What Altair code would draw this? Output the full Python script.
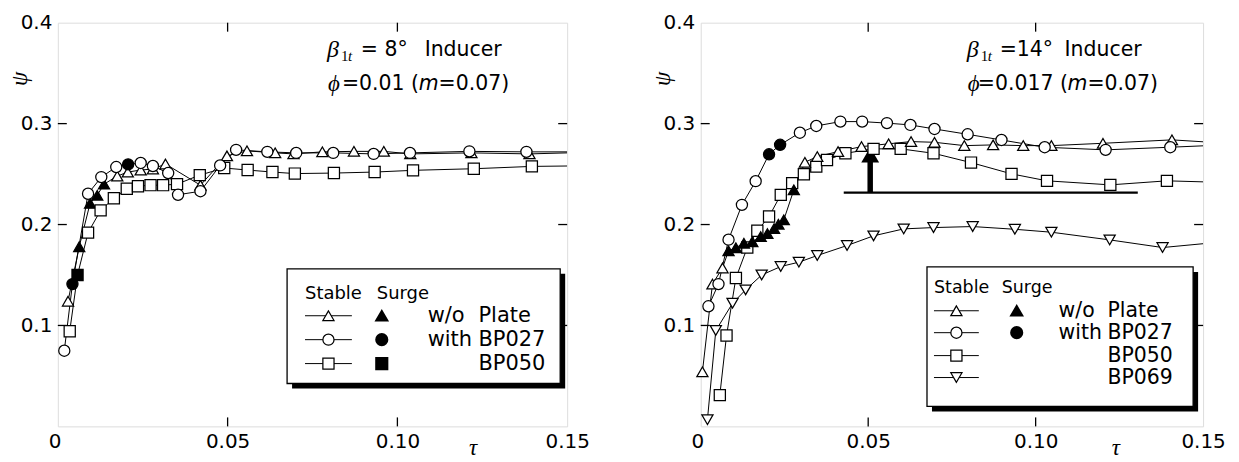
import altair as alt
import pandas as pd

TAU_DOMAIN = [0, 0.15]
PSI_DOMAIN = [0, 0.4]

# ---------------- Left panel: beta_1t = 8 deg, phi = 0.01 ----------------
L_WO_TAU = [0.0030, 0.0063, 0.0095, 0.0116, 0.0136, 0.0175, 0.0206, 0.0244, 0.0280, 0.0317,
            0.0420, 0.0498, 0.0557, 0.0640, 0.0694, 0.0779, 0.0872, 0.0960, 0.1038, 0.1218, 0.1389]
L_WO_PSI = [0.124, 0.178, 0.221, 0.229, 0.240, 0.248, 0.252, 0.254, 0.255, 0.260,
            0.239, 0.268, 0.273, 0.271, 0.270, 0.272, 0.2725, 0.2725, 0.270, 0.271, 0.270]
L_WO_SURGE = [1, 2, 3, 4]
L_WO_EDGE = 0.271

L_27_TAU = [0.0019, 0.0043, 0.0089, 0.0128, 0.0172, 0.0207, 0.0244, 0.0280, 0.0325, 0.0354,
            0.0420, 0.0478, 0.0525, 0.0617, 0.0702, 0.0811, 0.0930, 0.1037, 0.1212, 0.1380]
L_27_PSI = [0.075, 0.141, 0.2305, 0.247, 0.257, 0.2596, 0.261, 0.258, 0.251, 0.2295,
            0.233, 0.2586, 0.274, 0.272, 0.271, 0.271, 0.270, 0.271, 0.2725, 0.272]
L_27_SURGE = [1, 5]
L_27_EDGE = 0.272

L_50_TAU = [0.0035, 0.0058, 0.0089, 0.0126, 0.0165, 0.0203, 0.0236, 0.0273, 0.0310, 0.0351,
            0.0418, 0.0490, 0.0559, 0.0632, 0.0698, 0.0813, 0.0933, 0.1046, 0.1225, 0.1396]
L_50_PSI = [0.0943, 0.150, 0.192, 0.214, 0.226, 0.2355, 0.238, 0.239, 0.239, 0.240,
            0.249, 0.256, 0.254, 0.252, 0.2505, 0.251, 0.252, 0.2537, 0.2553, 0.2576]
L_50_SURGE = [1]
L_50_EDGE = 0.258

# ---------------- Right panel: beta_1t = 14 deg, phi = 0.017 ----------------
R_WO_TAU = [0.0005, 0.0035, 0.0065, 0.0083, 0.0105, 0.0129, 0.0154, 0.0179, 0.0199, 0.0219,
            0.0232, 0.0248, 0.0278, 0.0311, 0.0348, 0.0410, 0.0480, 0.0561, 0.0628, 0.0698,
            0.0787, 0.0873, 0.0963, 0.1047, 0.1201, 0.1407]
R_WO_PSI = [0.054, 0.141, 0.157, 0.174, 0.177, 0.1815, 0.183, 0.188, 0.191, 0.196,
            0.2003, 0.2046, 0.2343, 0.2617, 0.2673, 0.2723, 0.2772, 0.280, 0.2822, 0.2815,
            0.2782, 0.2789, 0.2782, 0.2782, 0.2805, 0.2839]
R_WO_SURGE = [3, 4, 5, 6, 7, 8, 9, 10, 11, 12]
R_WO_EDGE = 0.282

R_27_TAU = [0.0023, 0.0053, 0.0083, 0.0123, 0.0164, 0.0204, 0.0237, 0.0296, 0.0345, 0.0417,
            0.0482, 0.0556, 0.0626, 0.0698, 0.0797, 0.0898, 0.1027, 0.1209, 0.1402]
R_27_PSI = [0.119, 0.141, 0.185, 0.2195, 0.243, 0.2696, 0.279, 0.291, 0.2977, 0.302,
            0.302, 0.3005, 0.2987, 0.2947, 0.2894, 0.2838, 0.2766, 0.274, 0.2766]
R_27_SURGE = [5, 6]
R_27_EDGE = 0.278

R_50_TAU = [0.0057, 0.0077, 0.0105, 0.0139, 0.0169, 0.0204, 0.0239, 0.0273, 0.0308, 0.0345,
            0.0377, 0.0432, 0.0516, 0.0597, 0.0695, 0.0807, 0.0928, 0.1034, 0.1223, 0.1392]
R_50_PSI = [0.031, 0.090, 0.147, 0.1772, 0.1938, 0.208, 0.2294, 0.241, 0.2498, 0.2574,
            0.264, 0.2706, 0.275, 0.275, 0.2706, 0.2614, 0.2502, 0.2433, 0.2393, 0.2433]
R_50_SURGE = []
R_50_EDGE = 0.2423

R_69_TAU = [0.0020, 0.0045, 0.0095, 0.0134, 0.0182, 0.0239, 0.0293, 0.0348, 0.0437, 0.0516,
            0.0606, 0.0695, 0.0812, 0.0938, 0.1047, 0.1221, 0.1379]
R_69_PSI = [0.0066, 0.095, 0.122, 0.1353, 0.150, 0.1584, 0.1627, 0.1693, 0.1792, 0.1888,
            0.1957, 0.197, 0.198, 0.1953, 0.1924, 0.1848, 0.1772]
R_69_SURGE = []
R_69_EDGE = 0.181

# surge-limit annotation (right panel)
ARROW_TAU = 0.0506
ARROW_BASE_PSI = 0.2317
ARROW_TOP_PSI = 0.262
ARROW_HEAD_PSI = 0.269
LIMIT_TAU = [0.0427, 0.1305]

Y_TICKS = [0.1, 0.2, 0.3]
X_TICKS = [0.05, 0.10]
X_LABELS = [0, 0.05, 0.10, 0.15]
Y_LABELS = [0.1, 0.2, 0.3, 0.4]

SERIES = ["w/o Plate", "BP027", "BP050", "BP069"]
SHAPES = ["triangle-up", "circle", "square", "triangle-down"]

SANS = "DejaVu Sans"
SERIF = "Liberation Serif"
MSIZE = 125


def series_df(name, tau, psi, surge):
    return pd.DataFrame({
        "tau": tau, "psi": psi, "series": name,
        "state": ["Surge" if i in surge else "Stable" for i in range(len(tau))],
    })


def const(v):
    return alt.value(v)


ONE = pd.DataFrame({"k": [0]})


def text_at(x, y, s, size=20.5, font=SANS, style="normal", align="left"):
    return alt.Chart(ONE).mark_text(
        text=s, font=font, fontSize=size, fontStyle=style, align=align,
        baseline="middle", color="black"
    ).encode(x=const(x), y=const(y))


def make_panel(series, W, H, legend, annot, extra=None):
    xs = alt.Scale(domain=TAU_DOMAIN, nice=False, zero=False)
    ys = alt.Scale(domain=PSI_DOMAIN, nice=False, zero=False)
    pts = pd.concat([series_df(*s[:4]) for s in series], ignore_index=True)
    line_df = pd.concat(
        [series_df(*s[:4]) for s in series]
        + [pd.DataFrame({"tau": [0.15], "psi": [s[4]], "series": s[0], "state": "Stable"}) for s in series],
        ignore_index=True)

    x_axis = alt.Axis(values=X_LABELS, labelExpr="datum.value == 0 ? '0' : format(datum.value, '.2f')",
                      labelAlign={"condition": {"test": "datum.value == 0", "value": "right"},
                                  "value": "center"},
                      labelOffset={"condition": {"test": "datum.value == 0", "value": 3},
                                   "value": 0},
                      ticks=False, domain=False, grid=False, labelFont=SANS, labelFontSize=20,
                      labelColor="black", labelPadding=5, labelFlush=False, labelOverlap=False,
                      title="τ", titleFont=SERIF, titleFontStyle="italic", titleFontWeight="normal",
                      titleFontSize=23, titleColor="black", titleX=416, titleY=21,
                      titleAlign="center", titleBaseline="middle")
    y_axis = alt.Axis(values=Y_LABELS, format=".1f", ticks=False, domain=False, grid=False,
                      labelFont=SANS, labelFontSize=20, labelColor="black", labelPadding=6,
                      labelFlush=False, labelOverlap=False,
                      title="ψ", titleFont=SERIF, titleFontStyle="italic", titleFontWeight="normal",
                      titleFontSize=23, titleColor="black", titleX=-38, titleY=56, titleAngle=270,
                      titleAlign="center", titleBaseline="middle")

    lines = alt.Chart(line_df).mark_line(color="black", strokeWidth=1, clip=True).encode(
        x=alt.X("tau:Q", scale=xs, axis=x_axis),
        y=alt.Y("psi:Q", scale=ys, axis=y_axis),
        detail="series:N",
        order="tau:Q",
    )
    points = alt.Chart(pts).mark_point(filled=True, stroke="black", strokeWidth=1.25, opacity=1,
                                       size=MSIZE).encode(
        x=alt.X("tau:Q", scale=xs),
        y=alt.Y("psi:Q", scale=ys),
        shape=alt.Shape("series:N", scale=alt.Scale(domain=SERIES, range=SHAPES), legend=None),
        fill=alt.Fill("state:N", scale=alt.Scale(domain=["Stable", "Surge"], range=["white", "black"]),
                      legend=None),
    )

    ytk = pd.DataFrame({"psi": Y_TICKS})
    xtk = pd.DataFrame({"tau": X_TICKS})
    TL = 9
    ticks = [
        alt.Chart(ytk).mark_rule(color="black", strokeWidth=1.3).encode(
            y=alt.Y("psi:Q", scale=ys), x=const(0), x2=const(TL)),
        alt.Chart(ytk).mark_rule(color="black", strokeWidth=1.3).encode(
            y=alt.Y("psi:Q", scale=ys), x=const(W - TL), x2=const(W)),
        alt.Chart(xtk).mark_rule(color="black", strokeWidth=1.3).encode(
            x=alt.X("tau:Q", scale=xs), y=const(H - TL), y2=const(H)),
        alt.Chart(xtk).mark_rule(color="black", strokeWidth=1.3).encode(
            x=alt.X("tau:Q", scale=xs), y=const(0), y2=const(TL)),
    ]

    # legend box
    g = legend
    leg = [
        alt.Chart(ONE).mark_rect(color="black").encode(
            x=const(g["x0"] + 5), x2=const(g["x1"] + 5), y=const(g["y0"] + 5), y2=const(g["y1"] + 5)),
        alt.Chart(ONE).mark_rect(fill="white", stroke="black", strokeWidth=1.3).encode(
            x=const(g["x0"]), x2=const(g["x1"]), y=const(g["y0"]), y2=const(g["y1"])),
        text_at(g["stable_x"], g["head_y"], "Stable", size=g["head_size"]),
        text_at(g["surge_x"], g["head_y"], "Surge", size=g["head_size"]),
    ]
    for i, (shape, w1, w2, surge) in enumerate(g["rows"]):
        ry = g["row_y"][i]
        leg.append(alt.Chart(ONE).mark_rule(color="black", strokeWidth=1).encode(
            x=const(g["line_x0"]), x2=const(g["line_x1"]), y=const(ry)))
        leg.append(alt.Chart(ONE).mark_point(shape=shape, size=MSIZE, filled=True, fill="white",
                                             stroke="black", strokeWidth=1.25, opacity=1).encode(
            x=const((g["line_x0"] + g["line_x1"]) / 2), y=const(ry)))
        if surge:
            leg.append(alt.Chart(ONE).mark_point(shape=shape, size=MSIZE, filled=True, fill="black",
                                                 stroke="black", opacity=1).encode(
                x=const(g["sym_x"]), y=const(ry)))
        if w1:
            leg.append(text_at(g["w1_x"], ry, w1, size=g["row_size"]))
        leg.append(text_at(g["w2_x"], ry, w2, size=g["row_size"]))

    # annotation text
    a = annot
    ann = [
        text_at(a["x"], a["y1"], "β", size=24, font=SERIF, style="italic"),
        text_at(a["x"] + 14, a["y1"] + 6, "1", size=15, font=SERIF),
        text_at(a["x"] + 21, a["y1"] + 6, "t", size=15, font=SERIF, style="italic"),
        text_at(a["x"] + a["eq_dx"], a["y1"], a["eq"]),
        text_at(a["x"] + a["ind_dx"], a["y1"], "Inducer"),
        text_at(a["x"] + 1, a["y2"], "ϕ", size=23, font=SERIF, style="italic"),
        text_at(a["x"] + a["phi_dx"], a["y2"], a["phi"]),
        text_at(a["x"] + a["phi_dx"] + a["m_dx"], a["y2"], "m", style="italic"),
        text_at(a["x"] + a["phi_dx"] + a["m_dx"] + 20, a["y2"], "=0.07)"),
    ]

    layers = [lines] + ticks + (extra(xs, ys) if extra else []) + [points] + leg + ann
    return alt.layer(*layers).properties(width=W, height=H)


def arrow_layers(xs, ys):
    lim = pd.DataFrame({"tau": [LIMIT_TAU[0]], "tau2": [LIMIT_TAU[1]], "psi": [ARROW_BASE_PSI]})
    shaft = pd.DataFrame({"tau": [ARROW_TAU], "psi": [ARROW_BASE_PSI], "psi2": [ARROW_TOP_PSI]})
    head = pd.DataFrame({"tau": [ARROW_TAU], "psi": [ARROW_HEAD_PSI]})
    return [
        alt.Chart(lim).mark_rule(color="black", strokeWidth=2.2).encode(
            x=alt.X("tau:Q", scale=xs), x2="tau2:Q", y=alt.Y("psi:Q", scale=ys)),
        alt.Chart(shaft).mark_rule(color="black", strokeWidth=5.5).encode(
            x=alt.X("tau:Q", scale=xs), y=alt.Y("psi:Q", scale=ys), y2="psi2:Q"),
        alt.Chart(head).mark_point(shape="triangle-up", size=320, filled=True, fill="black",
                                   opacity=1).encode(
            x=alt.X("tau:Q", scale=xs), y=alt.Y("psi:Q", scale=ys)),
    ]


WL, WR, H = 511, 504, 405

left = make_panel(
    [("w/o Plate", L_WO_TAU, L_WO_PSI, L_WO_SURGE, L_WO_EDGE),
     ("BP050", L_50_TAU, L_50_PSI, L_50_SURGE, L_50_EDGE),
     ("BP027", L_27_TAU, L_27_PSI, L_27_SURGE, L_27_EDGE)],
    WL, H,
    legend=dict(x0=230, x1=504, y0=247, y1=362, stable_x=248, surge_x=320, head_y=272,
                head_size=18, row_size=21, row_y=[294, 318, 342], line_x0=248, line_x1=295,
                sym_x=325, w1_x=371, w2_x=422,
                rows=[("triangle-up", "w/o", "Plate", True), ("circle", "with", "BP027", True),
                      ("square", "", "BP050", True)]),
    annot=dict(x=270, y1=27, y2=62, eq="= 8°", eq_dx=34, ind_dx=98,
               phi="=0.01 (", phi_dx=15, m_dx=77),
)

right = make_panel(
    [("BP069", R_69_TAU, R_69_PSI, R_69_SURGE, R_69_EDGE),
     ("BP050", R_50_TAU, R_50_PSI, R_50_SURGE, R_50_EDGE),
     ("w/o Plate", R_WO_TAU, R_WO_PSI, R_WO_SURGE, R_WO_EDGE),
     ("BP027", R_27_TAU, R_27_PSI, R_27_SURGE, R_27_EDGE)],
    WR, H,
    legend=dict(x0=227, x1=494, y0=245, y1=385, stable_x=234, surge_x=302, head_y=266,
                head_size=17.5, row_size=20.5, row_y=[289, 311, 334, 356], line_x0=234, line_x1=279,
                sym_x=317, w1_x=359, w2_x=408,
                rows=[("triangle-up", "w/o", "Plate", True), ("circle", "with", "BP027", True),
                      ("square", "", "BP050", False), ("triangle-down", "", "BP069", False)]),
    annot=dict(x=267, y1=27, y2=62, eq="=14°", eq_dx=33, ind_dx=98,
               phi="=0.017 (", phi_dx=11, m_dx=90),
    extra=arrow_layers,
)

chart = alt.hconcat(left, right, spacing=134, bounds="flush").properties(
    padding={"left": 0, "top": 3, "right": 5, "bottom": 2}
).configure_view(stroke="black", strokeWidth=1.4).configure(background="white")

chart.save("out.html", embed_options={"renderer": "svg", "actions": False})
